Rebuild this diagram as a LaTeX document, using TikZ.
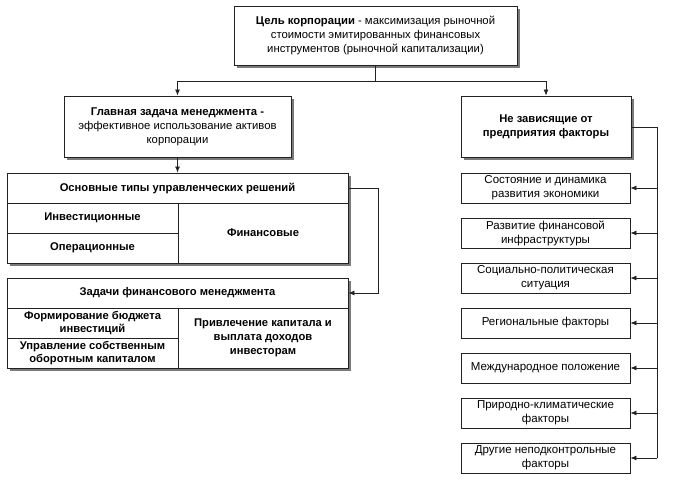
\documentclass[tikz,border=0pt]{standalone}
\usepackage{fontspec}
\setmainfont{Liberation Sans}
\usetikzlibrary{arrows.meta,shadows}
\definecolor{linec}{HTML}{222222}
\definecolor{shadc}{HTML}{7A7A7A}
\tikzset{
  box/.style={draw=linec, line width=0.9pt, fill=white, inner sep=0pt, align=center,
    font=\fontsize{11.3}{14}\selectfont,
    drop shadow={shadow xshift=2.5pt, shadow yshift=-2.5pt, fill=shadc, opacity=1}},
  cell/.style={draw=linec, line width=0.9pt, fill=white, inner sep=0pt, align=center,
    font=\fontsize{11.2}{13}\selectfont\bfseries},
  fbox/.style={draw=linec, line width=0.8pt, fill=white, inner sep=0pt, align=center,
    minimum width=169pt, minimum height=30pt,
    font=\fontsize{11.5}{14}\selectfont,
    drop shadow={shadow xshift=1.2pt, shadow yshift=-1.2pt, fill=shadc!70, opacity=1}},
  arr/.style={draw=linec, line width=0.8pt, -{Latex[length=6pt,width=5pt]}},
  ln/.style={draw=linec, line width=0.9pt},
}
\begin{document}
\begin{tikzpicture}[x=1pt,y=-1pt]
\useasboundingbox (0,0) rectangle (687,479);
% top box
\node[box, minimum width=283pt, minimum height=59pt] (top) at (375.5,35.5)
  {\textbf{Цель корпорации} - максимизация рыночной\\стоимости эмитированных финансовых\\инструментов (рыночной капитализации)};
% second level
\node[box, minimum width=227pt, minimum height=61pt] (gl) at (177.5,126.5)
  {\textbf{Главная задача менеджмента -}\\эффективное использование активов\\корпорации};
\node[box, minimum width=170pt, minimum height=61pt, font=\fontsize{11.2}{14}\selectfont\bfseries] (nz) at (546,126.5)
  {Не зависящие от\\предприятия факторы};
% table 1
\fill[shadc] (10,176) rectangle (351,266);
\node[cell, minimum width=341pt, minimum height=30pt] (t1h) at (177.5,188) {Основные типы управленческих решений};
\node[cell, minimum width=171pt, minimum height=30pt] (inv) at (92.5,218) {Инвестиционные};
\node[cell, minimum width=171pt, minimum height=30pt] (opr) at (92.5,248) {Операционные};
\node[cell, minimum width=170pt, minimum height=60pt] (fin) at (263,233) {Финансовые};
% table 2
\fill[shadc] (10,281) rectangle (351,371);
\node[cell, minimum width=341pt, minimum height=30pt] (t2h) at (177.5,293) {Задачи финансового менеджмента};
\node[cell, minimum width=171pt, minimum height=30pt] (fb) at (92.5,323) {Формирование бюджета\\инвестиций};
\node[cell, minimum width=171pt, minimum height=30pt] (us) at (92.5,353) {Управление собственным\\оборотным капиталом};
\node[cell, minimum width=170pt, minimum height=60pt, font=\fontsize{11.2}{14}\selectfont\bfseries] (pk) at (263,338) {Привлечение капитала и\\выплата доходов\\инвесторам};
% factors
\node[fbox] (f1) at (545.5,188) {Состояние и динамика\\развития экономики};
\node[fbox] (f2) at (545.5,233) {Развитие финансовой\\инфраструктуры};
\node[fbox] (f3) at (545.5,278) {Социально-политическая\\ситуация};
\node[fbox] (f4) at (545.5,323) {Региональные факторы};
\node[fbox] (f5) at (545.5,368) {Международное положение};
\node[fbox] (f6) at (545.5,413) {Природно-климатические\\факторы};
\node[fbox] (f7) at (545.5,458) {Другие неподконтрольные\\факторы};
% connectors
\coordinate (j) at (top.south |- 0,81);
\draw[ln] (top.south) -- (j);
\draw[arr] (j) -| (gl.north);
\draw[arr] (j) -| (nz.north);
\draw[arr] (gl.south) -- (t1h.north);
\coordinate (lb) at (378,188);
\draw[arr] (t1h.east) -- (lb) |- (t2h.east);
\coordinate (rb) at (657,127);
\draw[ln] (nz.east |- rb) -- (rb) -- (rb |- f7.east);
\foreach \f in {f1,f2,f3,f4,f5,f6,f7}{
  \draw[arr] (rb |- \f.east) -- (\f.east);
}
\end{tikzpicture}
\end{document}
